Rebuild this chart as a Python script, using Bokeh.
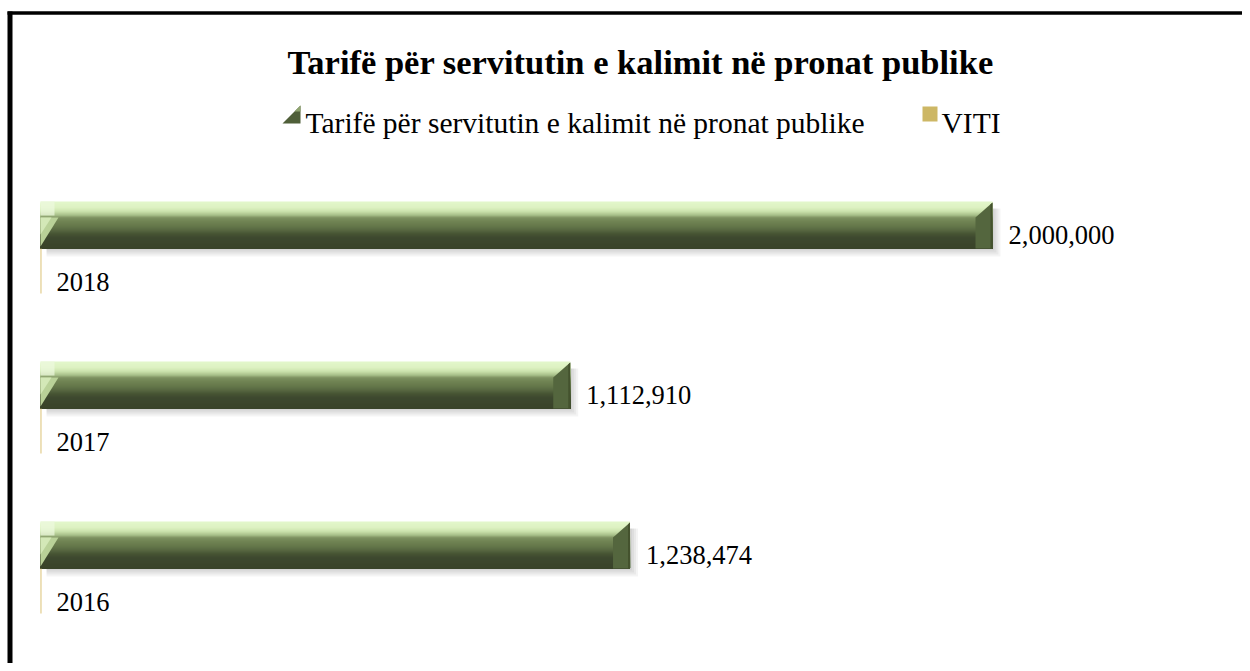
from bokeh.plotting import figure
from bokeh.models import Range1d
from bokeh.embed import file_html
from bokeh.resources import INLINE
from bokeh.core.properties import value

# ---------------- data ----------------
years = ["2016", "2017", "2018"]
tarife = [1238474, 1112910, 2000000]
viti = [2016, 2017, 2018]
chart_title = "Tarifë për servitutin e kalimit në pronat publike"
series_names = ["Tarifë për servitutin e kalimit në pronat publike", "VITI"]

# ---------------- layout constants ----------------
W, H = 1242, 663
UPX = 2100.84          # value units per pixel (x)
VPX = 1.0 / 160.0      # category units per pixel (y)
X_START = -40 * UPX    # value 0 sits 40 px from the left


def px(fx):
    return X_START + fx * UPX


def py(fy):
    return (568 - fy) / 160.0


def hex2rgb(h):
    h = h.lstrip("#")
    return tuple(int(h[i:i + 2], 16) for i in (0, 2, 4))


def mix(c1, c2, t):
    a, b = hex2rgb(c1), hex2rgb(c2)
    return "#%02x%02x%02x" % tuple(int(round(a[i] + (b[i] - a[i]) * t)) for i in range(3))


def shade_at(stops, y):
    for (y0, c0), (y1, c1) in zip(stops, stops[1:]):
        if y0 <= y <= y1:
            return mix(c0, c1, (y - y0) / (y1 - y0) if y1 > y0 else 0)
    return stops[-1][1]


FONT = value("Liberation Serif")

p = figure(width=W, height=H, output_backend="svg", toolbar_location=None,
           x_range=Range1d(X_START, X_START + W * UPX),
           y_range=Range1d(py(H), py(0)),
           x_axis_location=None, y_axis_location=None, title=None,
           min_border=0, min_border_left=0, min_border_right=0,
           min_border_top=0, min_border_bottom=0)
p.grid.visible = False
p.outline_line_color = None
p.background_fill_color = "white"
p.border_fill_color = "white"

ks = list(range(len(years)))

# ---------------- shadows ----------------
for s in (2, 4, 6, 8):
    p.quad(left=[6 * UPX] * len(ks), right=[v + s * UPX for v in tarife],
           bottom=[k - s * VPX for k in ks], top=[k + 40 * VPX for k in ks],
           fill_color="black", fill_alpha=0.045, line_color=None)

# ---------------- main series: shaded body (front face + top face) ----------------
stops = [(0, "#394329"), (11, "#3e492f"), (15, "#485534"), (18, "#566640"),
         (22, "#64774a"), (28, "#738656"), (31, "#7f9262"), (33, "#a3bb85"),
         (37, "#cbe2ac"), (41, "#ddf2c2"), (47, "#e3f7cb")]
# drawn from the top stripe downwards, each covering down to the base -> no seams
for yb in range(46, -1, -1):
    col = shade_at(stops, yb + 0.5)
    p.quad(left=[0] * len(ks), right=tarife,
           bottom=[k for k in ks], top=[k + (yb + 1) * VPX for k in ks],
           fill_color=col, line_color=None)

# light highlight at left end of top face
p.quad(left=[0] * len(ks), right=[14 * UPX] * len(ks),
       bottom=[k + 33 * VPX for k in ks], top=[k + 47 * VPX for k in ks],
       fill_color="#eef9e0", fill_alpha=0.7, line_color=None)

# left bevel
p.patches(xs=[[0, 0, 18 * UPX] for _ in ks],
          ys=[[k + 2 * VPX, k + 31 * VPX, k + 31 * VPX] for k in ks],
          fill_color="#b9d198", line_color=None)
p.patches(xs=[[0, 0, 11 * UPX] for _ in ks],
          ys=[[k + 14 * VPX, k + 31 * VPX, k + 31 * VPX] for k in ks],
          fill_color="#d3e8b7", line_color=None)

# right end cap
p.patches(xs=[[v - 17 * UPX, v - 17 * UPX, v, v] for v in tarife],
          ys=[[k, k + 31 * VPX, k + 46 * VPX, k] for k in ks],
          fill_color="#54663e", line_color=None)
p.patches(xs=[[v - 2 * UPX, v - 2 * UPX, v, v] for v in tarife],
          ys=[[k, k + 44 * VPX, k + 46 * VPX, k] for k in ks],
          fill_color="#44522e", line_color=None)

# ---------------- VITI series ----------------
p.quad(left=[0] * len(ks), right=viti,
       bottom=[k - 45 * VPX for k in ks], top=[k for k in ks],
       fill_color="#d9bf70", line_color=None)

# ---------------- data labels ----------------
p.text(x=[v + 16 * UPX for v in tarife], y=[k + 14 * VPX for k in ks],
       text=[f"{v:,}" for v in tarife], text_baseline="alphabetic", text_align="left",
       text_font=FONT, text_font_size="26.5px", text_color="black")
p.text(x=[v + 15 * UPX for v in viti], y=[k - 33 * VPX for k in ks],
       text=[str(v) for v in viti], text_baseline="alphabetic", text_align="left",
       text_font=FONT, text_font_size="26.5px", text_color="black")

# ---------------- title ----------------
p.text(x=[px(287)], y=[py(61)], text=[chart_title], text_baseline="alphabetic",
       text_align="left", text_font=FONT, text_font_size="34.5px",
       text_font_style="bold", text_color="black")

# ---------------- legend ----------------
p.patch(x=[px(300), px(300), px(282)], y=[py(105), py(123), py(123)],
        fill_color="#4f5f39", line_color=None)
p.patch(x=[px(300), px(300), px(294)], y=[py(105), py(111), py(111)],
        fill_color="#8fa470", line_color=None)
p.text(x=[px(305)], y=[py(122)], text=[series_names[0]], text_baseline="alphabetic",
       text_align="left", text_font=FONT, text_font_size="29.5px", text_color="black")
p.quad(left=[px(922)], right=[px(937)], bottom=[py(121)], top=[py(106)],
       fill_color="#cdb765", line_color=None)
p.text(x=[px(941)], y=[py(122)], text=[series_names[1]], text_baseline="alphabetic",
       text_align="left", text_font=FONT, text_font_size="29.5px", text_color="black")

# ---------------- chart border ----------------
p.segment(x0=[px(7)], y0=[py(12.5)], x1=[px(W + 5)], y1=[py(12.5)],
          line_color="black", line_width=3.5)
p.segment(x0=[px(9.5)], y0=[py(11)], x1=[px(9.5)], y1=[py(H + 5)],
          line_color="black", line_width=5)

open("out.html", "w").write(file_html(p, INLINE))
